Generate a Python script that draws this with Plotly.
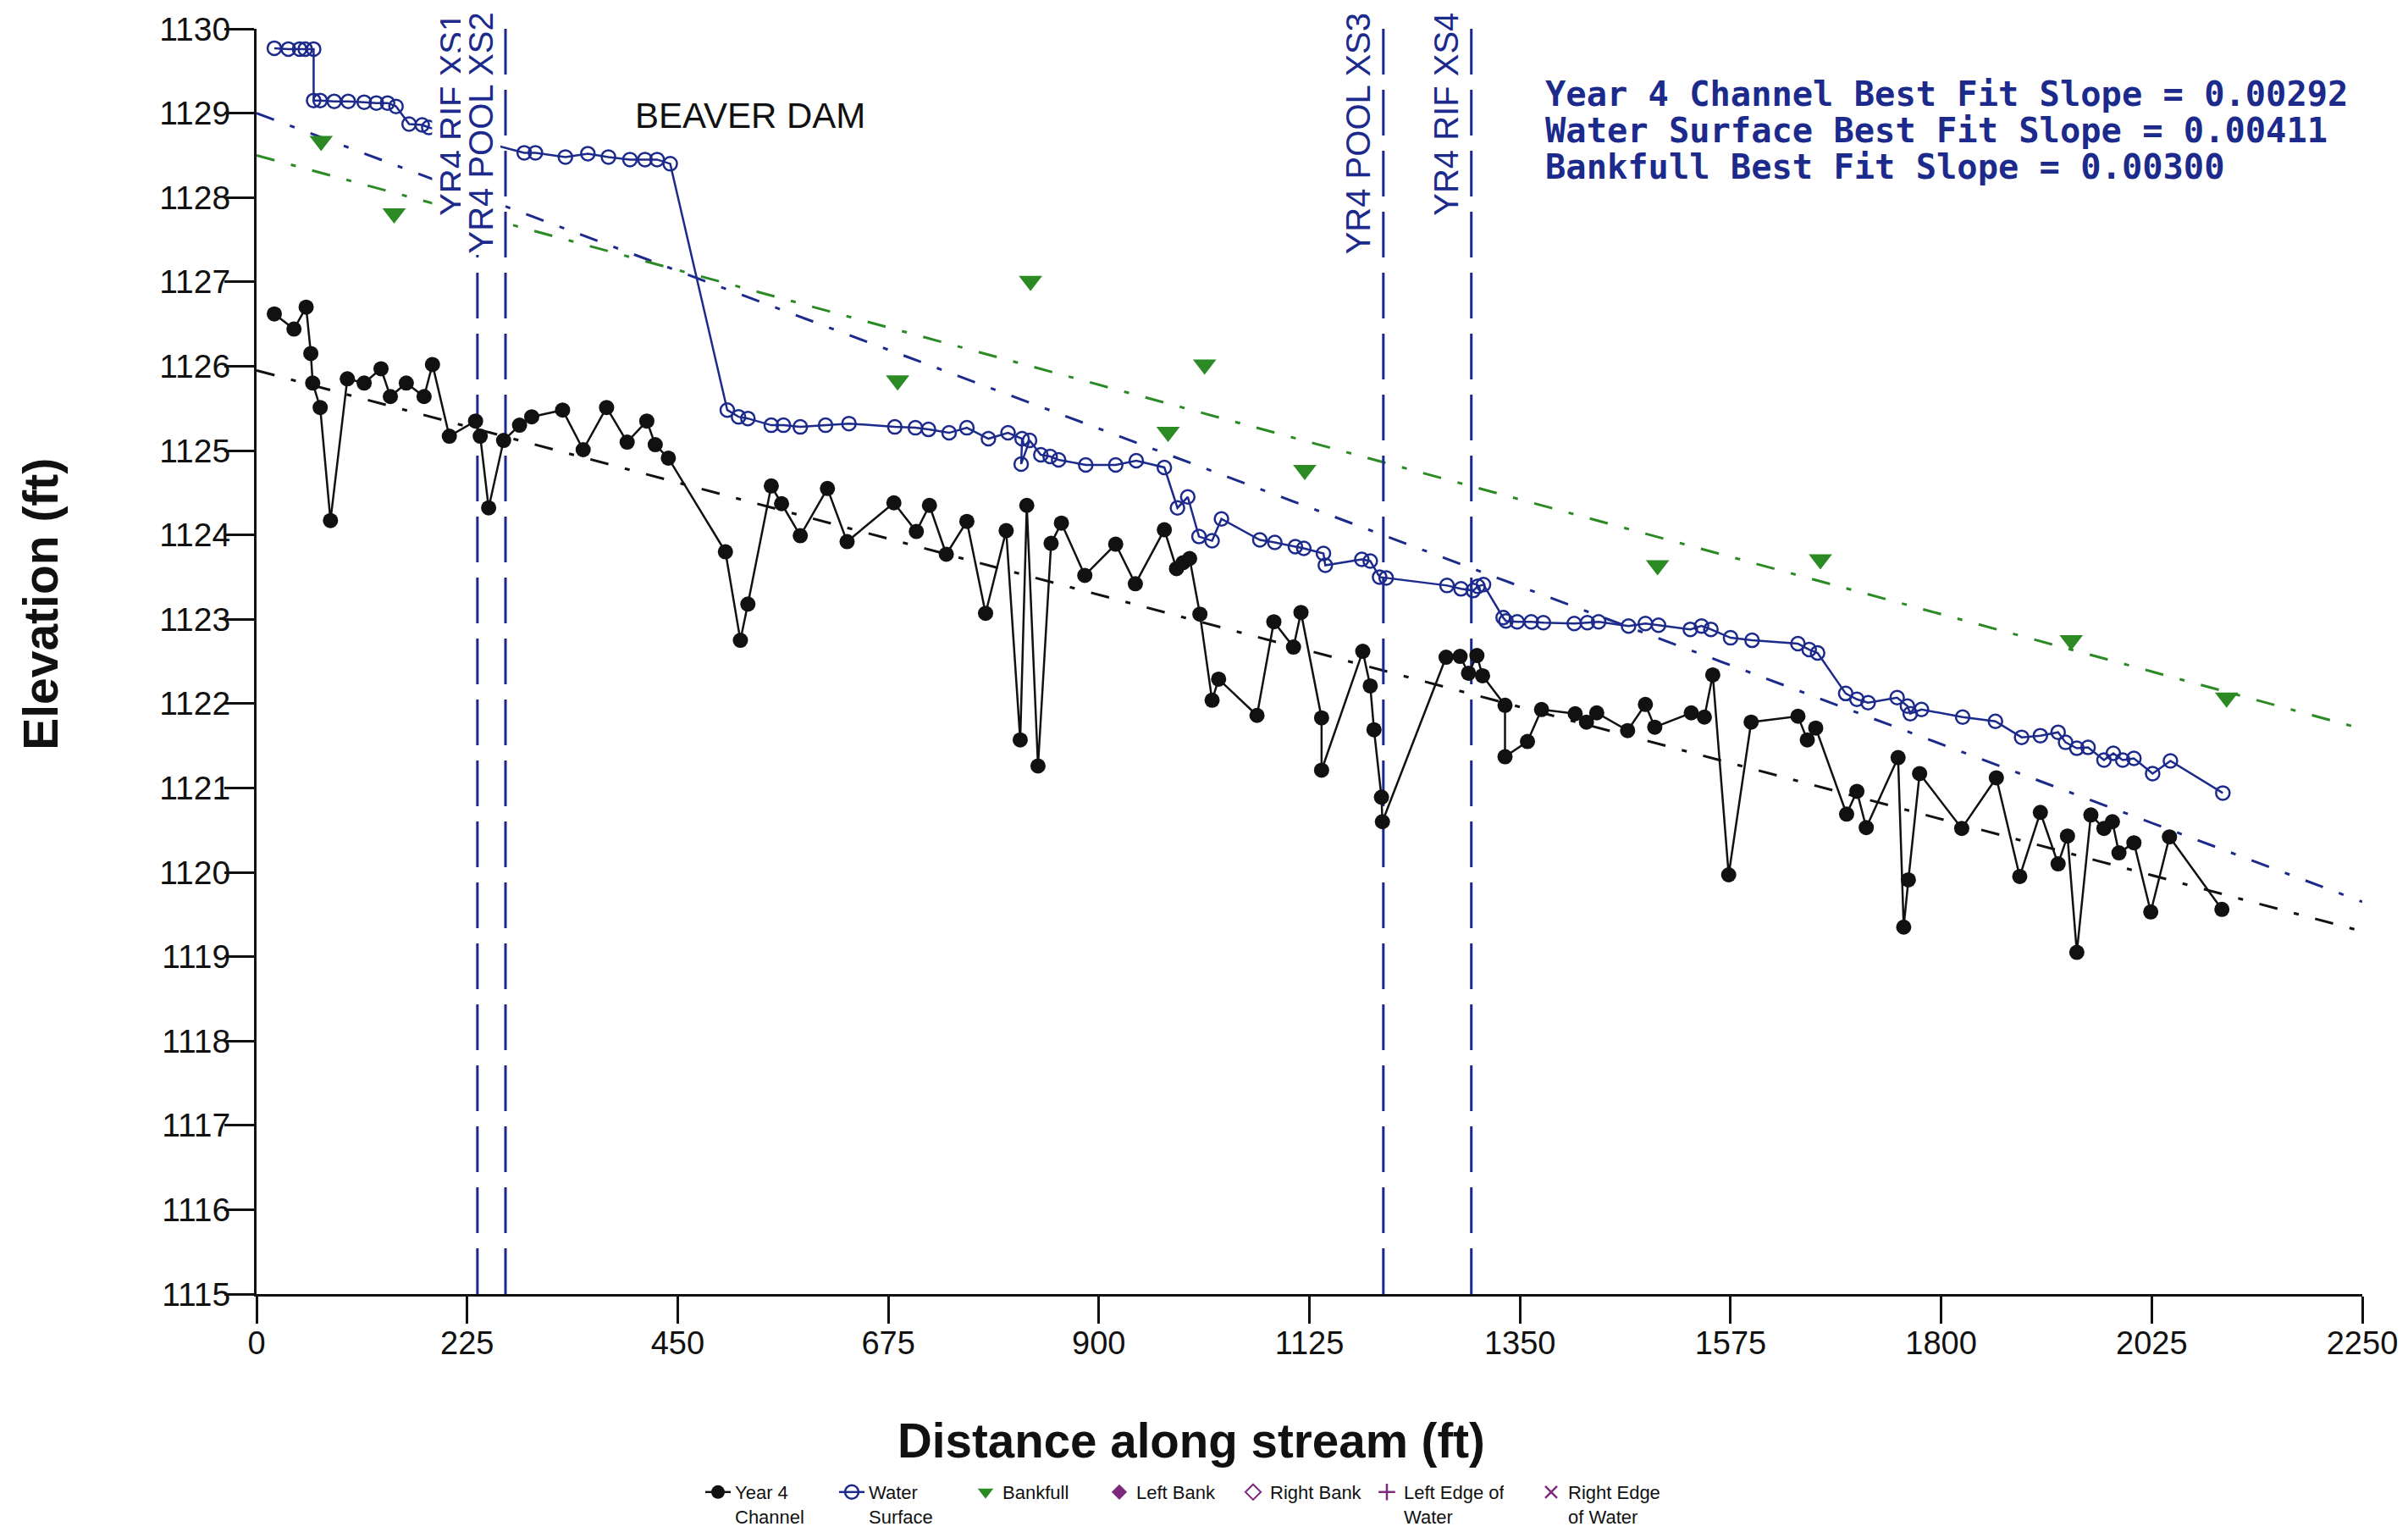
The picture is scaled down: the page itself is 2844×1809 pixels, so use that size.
import plotly.graph_objects as go

# ---------------- data ----------------
channel_x = [19, 40, 53, 58, 60, 68, 79, 97, 115, 133, 143, 160, 179, 188, 206, 234, 239, 248, 264,
             281, 294, 327, 349, 374, 396, 417, 426, 440, 501, 517, 525, 550, 561, 581, 610, 631,
             681, 705, 719, 737, 759, 779, 801, 816, 823, 835, 849, 860, 885, 918, 939, 970, 983,
             990, 997, 1008, 1021, 1028, 1069, 1087, 1108, 1116, 1138, 1138, 1182, 1190, 1194,
             1202, 1203, 1271, 1286, 1295, 1304, 1310, 1334, 1334, 1358, 1373, 1409, 1421, 1432,
             1465, 1484, 1494, 1533, 1547, 1556, 1573, 1597, 1647, 1657, 1666, 1699, 1710, 1720,
             1754, 1760, 1765, 1777, 1822, 1859, 1884, 1906, 1925, 1935, 1945, 1960, 1974, 1983,
             1990, 2006, 2024, 2044, 2100]
channel_y = [1126.62, 1126.44, 1126.70, 1126.15, 1125.80, 1125.51, 1124.17, 1125.85, 1125.80,
             1125.97, 1125.64, 1125.80, 1125.64, 1126.02, 1125.17, 1125.35, 1125.17, 1124.32,
             1125.12, 1125.30, 1125.40, 1125.48, 1125.01, 1125.51, 1125.10, 1125.35, 1125.07,
             1124.91, 1123.80, 1122.75, 1123.18, 1124.58, 1124.37, 1123.99, 1124.55, 1123.92,
             1124.38, 1124.04, 1124.35, 1123.77, 1124.16, 1123.07, 1124.05, 1121.57, 1124.35,
             1121.26, 1123.90, 1124.14, 1123.52, 1123.89, 1123.42, 1124.06, 1123.60, 1123.67,
             1123.72, 1123.06, 1122.04, 1122.29, 1121.86, 1122.97, 1122.67, 1123.08, 1121.83,
             1121.21, 1122.62, 1122.21, 1121.69, 1120.89, 1120.60, 1122.55, 1122.56, 1122.36,
             1122.57, 1122.33, 1121.98, 1121.37, 1121.55, 1121.93, 1121.88, 1121.78, 1121.89,
             1121.68, 1121.99, 1121.72, 1121.89, 1121.84, 1122.34, 1119.97, 1121.78, 1121.85,
             1121.57, 1121.71, 1120.69, 1120.96, 1120.53, 1121.36, 1119.35, 1119.91, 1121.17,
             1120.52, 1121.12, 1119.95, 1120.71, 1120.10, 1120.43, 1119.05, 1120.68, 1120.52,
             1120.60, 1120.23, 1120.35, 1119.53, 1120.42, 1119.56]

water_x = [19, 34, 46, 52, 61, 61, 68, 83, 98, 115, 128, 140, 149, 163, 177, 184, 286, 298, 330,
           354, 376, 399, 415, 428, 442, 503, 515, 525, 550, 563, 581, 608, 633, 682, 704, 718,
           740, 759, 782, 803, 818, 817, 826, 838, 848, 857, 886, 918, 940, 970, 984, 995, 1007,
           1021, 1031, 1072, 1088, 1110, 1119, 1140, 1142, 1181, 1190, 1200, 1207, 1272, 1287,
           1300, 1305, 1311, 1332, 1335, 1347, 1362, 1375, 1408, 1422, 1434, 1466, 1484, 1498,
           1532, 1544, 1554, 1575, 1598, 1647, 1659, 1668, 1698, 1710, 1722, 1753, 1764, 1767,
           1779, 1823, 1858, 1886, 1906, 1925, 1933, 1945, 1957, 1974, 1984, 1994, 2006, 2026,
           2045, 2101]
water_y = [1129.77, 1129.76, 1129.76, 1129.76, 1129.76, 1129.15, 1129.15, 1129.14, 1129.14,
           1129.13, 1129.12, 1129.12, 1129.08, 1128.87, 1128.86, 1128.83, 1128.53, 1128.53,
           1128.48, 1128.52, 1128.48, 1128.45, 1128.45, 1128.45, 1128.40, 1125.48, 1125.40,
           1125.38, 1125.30, 1125.30, 1125.28, 1125.30, 1125.32, 1125.28, 1125.27, 1125.25,
           1125.21, 1125.27, 1125.14, 1125.21, 1125.14, 1124.84, 1125.12, 1124.95, 1124.93,
           1124.89, 1124.83, 1124.83, 1124.88, 1124.80, 1124.32, 1124.45, 1123.98, 1123.93,
           1124.19, 1123.94, 1123.91, 1123.86, 1123.84, 1123.78, 1123.64, 1123.71, 1123.69,
           1123.50, 1123.49, 1123.40, 1123.36, 1123.34, 1123.39, 1123.41, 1123.02, 1122.98,
           1122.97, 1122.97, 1122.96, 1122.95, 1122.96, 1122.97, 1122.92, 1122.95, 1122.93,
           1122.88, 1122.92, 1122.88, 1122.78, 1122.75, 1122.71, 1122.64, 1122.60, 1122.12,
           1122.05, 1122.01, 1122.07, 1121.97, 1121.88, 1121.93, 1121.84, 1121.79, 1121.60,
           1121.62, 1121.66, 1121.54, 1121.47, 1121.48, 1121.33, 1121.41, 1121.33, 1121.35,
           1121.17, 1121.32, 1120.94]

bankfull_x = [69, 147, 685, 827, 974, 1013, 1120, 1497, 1671, 1939, 2105]
bankfull_y = [1128.67, 1127.81, 1125.83, 1127.01, 1125.22, 1126.02, 1124.77, 1123.64, 1123.71,
              1122.75, 1122.07]

empty_x = [None]
empty_y = [None]

fit_x = [0, 2250]
channel_fit_y = [1125.95, 1119.30]
water_fit_y = [1129.00, 1119.65]
bankfull_fit_y = [1128.50, 1121.70]

section_x = [236, 266, 1204, 1298]
section_labels = ["YR4 RIF XS1", "YR4 POOL XS2", "YR4 POOL XS3", "YR4 RIF XS4"]

dist_range = [0, 2250]
elev_range = [1115, 1130]
x_ticks = [0, 225, 450, 675, 900, 1125, 1350, 1575, 1800, 2025, 2250]
y_ticks = [1115, 1116, 1117, 1118, 1119, 1120, 1121, 1122, 1123, 1124, 1125, 1126, 1127, 1128,
           1129, 1130]

slope_labels = ["Year 4 Channel Best Fit Slope = 0.00292",
                "Water Surface Best Fit Slope = 0.00411",
                "Bankfull Best Fit Slope = 0.00300"]

# ---------------- styles ----------------
NAVY = "#1c2a8c"
GREEN = "#2b8a24"
PURPLE = "#7d2a7d"
BLACK = "#111111"
FONT = "Liberation Sans, Arial, sans-serif"

W, H = 2844, 1809
ML, MR, MT, MB = 303, 45, 34, 281

fig = go.Figure()

# best-fit lines
for ys, col in [(channel_fit_y, BLACK), (water_fit_y, NAVY), (bankfull_fit_y, GREEN)]:
    fig.add_trace(go.Scatter(x=fit_x, y=ys, mode="lines", showlegend=False, hoverinfo="skip",
                             line=dict(color=col, width=3, dash="22px,20px,6px,20px")))

# cross-section lines
for sx in section_x:
    fig.add_trace(go.Scatter(x=[sx, sx], y=elev_range, mode="lines", showlegend=False,
                             hoverinfo="skip",
                             line=dict(color=NAVY, width=3, dash="54px,18px")))

# data series
fig.add_trace(go.Scatter(x=channel_x, y=channel_y, mode="lines+markers",
                         name="Year 4<br>Channel",
                         line=dict(color=BLACK, width=2.5),
                         marker=dict(symbol="circle", size=18, color=BLACK)))
fig.add_trace(go.Scatter(x=water_x, y=water_y, mode="lines+markers",
                         name="Water<br>Surface",
                         line=dict(color=NAVY, width=2.5),
                         marker=dict(symbol="circle-open", size=16, color=NAVY,
                                     line=dict(width=2.5, color=NAVY))))
fig.add_trace(go.Scatter(x=bankfull_x, y=bankfull_y, mode="markers", name="Bankfull",
                         marker=dict(symbol="triangle-down", size=24, color=GREEN)))
fig.add_trace(go.Scatter(x=empty_x, y=empty_y, mode="markers", name="Left Bank",
                         marker=dict(symbol="diamond", size=14, color=PURPLE)))
fig.add_trace(go.Scatter(x=empty_x, y=empty_y, mode="markers", name="Right Bank",
                         marker=dict(symbol="diamond-open", size=14, color=PURPLE,
                                     line=dict(width=2, color=PURPLE))))
fig.add_trace(go.Scatter(x=empty_x, y=empty_y, mode="markers", name="Left Edge of<br>Water",
                         marker=dict(symbol="cross-thin-open", size=14, color=PURPLE,
                                     line=dict(width=2.5, color=PURPLE))))
fig.add_trace(go.Scatter(x=empty_x, y=empty_y, mode="markers", name="Right Edge<br>of Water",
                         legend="legend2",
                         marker=dict(symbol="x-thin-open", size=14, color=PURPLE,
                                     line=dict(width=2.5, color=PURPLE))))

annotations = []
# cross-section labels
for sx, lab in zip(section_x, section_labels):
    annotations.append(dict(x=sx, xref="x", y=1.0, yref="paper", yshift=21,
                            xanchor="right", yanchor="top", xshift=-6,
                            text=lab, textangle=-90, showarrow=False,
                            bgcolor="white", borderpad=1,
                            font=dict(family=FONT, size=40, color=NAVY)))
# slope notes
for i, lab in enumerate(slope_labels):
    annotations.append(dict(x=0.611, xref="paper", y=0.9486 - i * 0.0289, yref="paper",
                            xanchor="left", yanchor="middle", text="<b>%s</b>" % lab,
                            showarrow=False,
                            font=dict(family="DejaVu Sans Mono, monospace", size=40.4,
                                      color=NAVY)))
# beaver dam note
annotations.append(dict(x=527, xref="x", y=1128.97, yref="y", text="BEAVER DAM",
                        showarrow=False, xanchor="center", yanchor="middle",
                        font=dict(family=FONT, size=42, color=BLACK)))
# axis titles
annotations.append(dict(x=-0.1026, xref="paper", y=0.5455, yref="paper",
                        text="<b>Elevation (ft)</b>", textangle=-90, showarrow=False,
                        xanchor="center", yanchor="middle",
                        font=dict(family=FONT, size=57, color=BLACK)))
annotations.append(dict(x=0.4438, xref="paper", y=-0.1158, yref="paper",
                        text="<b>Distance along stream (ft)</b>", showarrow=False,
                        xanchor="center", yanchor="middle",
                        font=dict(family=FONT, size=56.5, color=BLACK)))

axis_common = dict(showgrid=False, zeroline=False)

fig.update_layout(
    width=W, height=H,
    margin=dict(l=ML, r=MR, t=MT, b=MB, pad=0),
    paper_bgcolor="white", plot_bgcolor="white",
    font=dict(family=FONT, color=BLACK),
    annotations=annotations,
    xaxis=dict(range=dist_range, tickvals=x_ticks, ticks="outside", ticklen=32, tickwidth=3,
               tickcolor=BLACK, showline=True, linewidth=3, linecolor=BLACK,
               ticklabelstandoff=-10, ticklabeloverflow="allow",
               tickfont=dict(family=FONT, size=38, color=BLACK), **axis_common),
    yaxis=dict(range=elev_range, tickvals=y_ticks, ticks="outside", ticklen=35, tickwidth=3,
               tickcolor=BLACK, showline=True, linewidth=3, linecolor=BLACK,
               ticklabelstandoff=-15,
               tickfont=dict(family=FONT, size=39, color=BLACK), **axis_common),
    xaxis2=dict(range=dist_range, tickvals=x_ticks, ticks="inside", ticklen=32, tickwidth=3,
                tickcolor=BLACK, overlaying="x", anchor="y", side="bottom",
                showticklabels=False, showline=False, **axis_common),
    yaxis2=dict(range=elev_range, tickvals=y_ticks, ticks="inside", ticklen=35, tickwidth=3,
                tickcolor=BLACK, overlaying="y", anchor="x", side="left",
                showticklabels=False, showline=False, **axis_common),
    legend=dict(orientation="h", xref="container", yref="container",
                x=828 / W, y=1 - 1741 / H, xanchor="left", yanchor="top",
                entrywidth=113, entrywidthmode="pixels", valign="top",
                bgcolor="rgba(0,0,0,0)", font=dict(family=FONT, size=22, color=BLACK),
                tracegroupgap=0),
    legend2=dict(orientation="h", xref="container", yref="container",
                 x=1812 / W, y=1 - 1741 / H, xanchor="left", yanchor="top",
                 valign="top", bgcolor="rgba(0,0,0,0)",
                 font=dict(family=FONT, size=22, color=BLACK)),
)

# remove the default 8px page margin so the figure fills the window exactly
fig.write_html("out.html", config={"displayModeBar": False},
               post_script="document.body.style.margin='0';document.body.style.overflow='hidden';")
